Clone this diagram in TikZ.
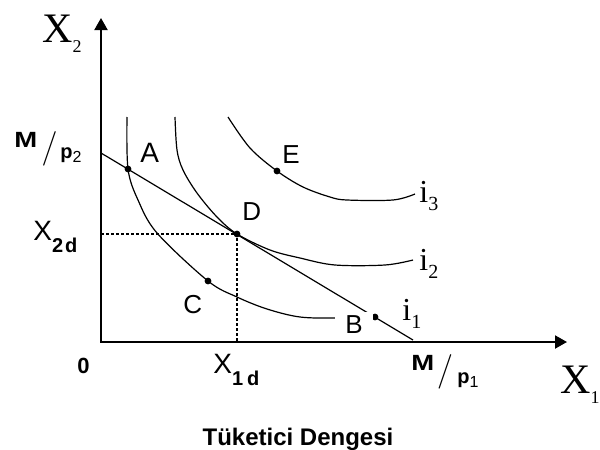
\documentclass[tikz,border=0pt]{standalone}
\usepackage{fontspec}
\setmainfont{Liberation Sans}
\newfontfamily\eksenfont{Liberation Serif}
\usepackage{graphicx}
\usetikzlibrary{arrows.meta}

\begin{document}
\begin{tikzpicture}[
      x=0.5pt, y=-0.5pt,
      eksen/.style ={{Triangle[length=6pt,width=6.5pt]}-{Triangle[length=6pt,width=6.5pt]},
                     line width=1pt},
      egri/.style  ={line width=0.6pt,smooth,tension=0.55},
      butce/.style ={line width=0.6pt},
      kesik/.style ={line width=0.6pt,dash pattern=on 1.5pt off 1pt},
      nokta/.style ={circle,fill,inner sep=0pt,minimum size=3.4pt},
      harf/.style  ={anchor=base west,inner sep=0pt,font=\fontsize{13}{13}\selectfont},
      kalin/.style ={anchor=base west,inner sep=0pt,font=\fontsize{11}{11}\selectfont\bfseries},
      bolu/.style  ={inner sep=0pt,font=\fontsize{16.5}{16.5}\selectfont},
      serif/.style ={anchor=base west,inner sep=0pt,font=\eksenfont\fontsize{21}{21}\selectfont},
      ekseni/.style={anchor=base west,inner sep=0pt,font=\eksenfont\fontsize{16}{16}\selectfont}]
      \useasboundingbox (0,0) rectangle (600,450);
      % noktalar
      \node[nokta] (A) at (128,169) {};
      \node[nokta] (C) at (208,281) {};
      \node[nokta] (D) at (237,234) {};
      \node[nokta] (E) at (277,171) {};
      \node[nokta] (B) at (375,317) {};
      % eksenler
      \coordinate (O)   at (101,342);
      \coordinate (ust) at (101,18);
      \coordinate (sag) at (567,342);
      \draw[eksen] (ust) |- (sag);
      % kayitsizlik egrileri
      \draw[egri] plot coordinates {(127,117) (A.center) (138,200) (157,233) (C.center)
                  (237,297) (267,309) (300,317) (337,318) (B.center)};
      \draw[egri] plot coordinates {(175,117) (177,150) (183,170) (197,193) (217,217)
                  (D.center) (270,250) (300,258) (335,265) (385,265) (413,260)};
      \draw[egri] plot coordinates {(228,117) (250,148) (E.center) (303,187) (330,197)
                  (347,200) (393,200) (415,194)};
      % butce dogrusu
      \coordinate (m2) at (101,153);
      \coordinate (m1) at (413,340);
      \draw[butce] (m2) -- (m1);
      \draw[kesik] (O |- D) -- (D.center) -- (D |- O);
      % etiketler
      \node[harf,font=\fontsize{14}{14}\selectfont] (lA) at (140,162) {A};
      \node[harf,fill=white,inner xsep=5pt,inner ysep=1.5pt] (lB) at (335,333) {B};
      \node[harf] (lC) at (183,313) {C};
      \node[harf] (lD) at (242,220) {D};
      \node[harf] (lE) at (282,163) {E};
      \node[ekseni] (i1) at (402,320) {i\raisebox{-4pt}{\fontsize{10}{10}\selectfont 1}};
      \node[ekseni] (i2) at (419,270) {i\raisebox{-4pt}{\fontsize{10}{10}\selectfont 2}};
      \node[ekseni] (i3) at (419,202) {i\raisebox{-4pt}{\fontsize{10}{10}\selectfont 3}};
      \node[serif] (x2) at (42,42) {X\raisebox{-5pt}{\fontsize{9}{9}\selectfont 2}};
      \node[serif] (x1) at (560,393) {X\raisebox{-5pt}{\fontsize{9}{9}\selectfont 1}};
      \node[harf,font=\fontsize{14}{14}\selectfont] (x2d) at (33,240)
        {X\raisebox{-6pt}{\fontsize{10}{10}\selectfont\bfseries 2\kern1pt d}};
      \node[harf,font=\fontsize{14}{14}\selectfont] (x1d) at (213,373)
        {X\raisebox{-6pt}{\fontsize{10}{10}\selectfont\bfseries 1\kern2pt d}};
      \node[kalin] (sifir) at (77,373) {0};
      % M/p etiketleri
      \node[kalin] (M2) at (14,147) {\scalebox{1.25}[1]{M}};
      \node[bolu]  (s2) at (49.5,148.5) {$/$};
      \node[kalin,font=\fontsize{10}{10}\selectfont] (p2) at (60,158)
        {\textbf{p}\raisebox{-2pt}{\fontsize{8}{8}\selectfont 2}};
      \node[kalin] (M1) at (411,370) {\scalebox{1.25}[1]{M}};
      \node[bolu]  (s1) at (445,372) {$/$};
      \node[kalin,font=\fontsize{10}{10}\selectfont] (p1) at (457,383)
        {\textbf{p}\raisebox{-2pt}{\fontsize{8}{8}\selectfont 1}};
      \node[anchor=base,inner sep=0pt,font=\fontsize{12}{12}\selectfont\bfseries]
        (baslik) at (298,445) {Tüketici Dengesi};
    \end{tikzpicture}
\end{document}
